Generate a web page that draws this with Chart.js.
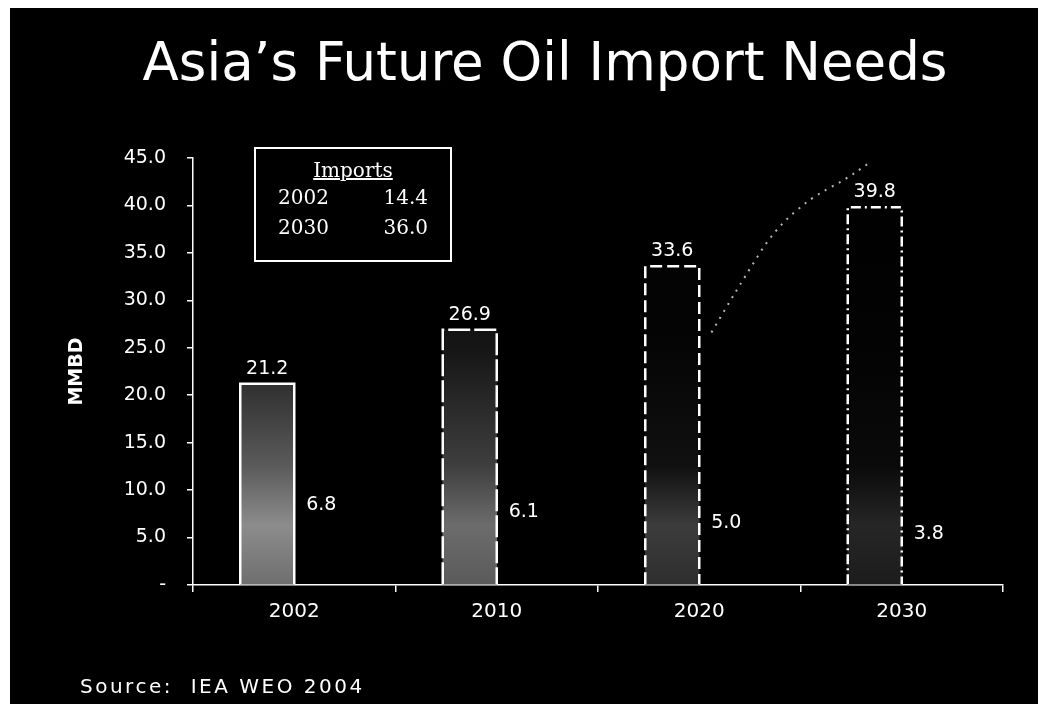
<!DOCTYPE html>
<html>
<head>
<meta charset="utf-8">
<title>Asia's Future Oil Import Needs</title>
<script src="https://cdn.jsdelivr.net/npm/chart.js@4.4.1/dist/chart.umd.min.js"></script>
<style>
  html, body { margin: 0; padding: 0; background: #fff; }
  #frame {
    position: absolute; left: 10px; top: 8px;
    width: 1028px; height: 696px; background: #000; overflow: hidden;
  }
  #chart { position: absolute; left: 0; top: 0; }
  #title {
    position: absolute; left: 0; top: 22px; width: 1070px; text-align: center;
    color: #fff; font-family: "DejaVu Sans", sans-serif; font-size: 53px; line-height: 64px;
    white-space: nowrap;
  }
  #imports {
    position: absolute; left: 244px; top: 139px; width: 194px; height: 111px;
    border: 2px solid #fff; color: #fff;
    font-family: "DejaVu Serif", "Liberation Serif", serif; font-size: 20px;
  }
  #imports .head { text-align: center; text-decoration: underline; margin-top: 8px; line-height: 26px; }
  #imports .row { position: relative; height: 30px; line-height: 28px; }
  #imports .yr { position: absolute; left: 22px; }
  #imports .val { position: absolute; right: 22px; }
  #source {
    position: absolute; left: 70px; top: 666px; color: #fff;
    font-family: "DejaVu Sans", sans-serif; font-size: 20px; letter-spacing: 2.5px;
  }
</style>
</head>
<body>
<div id="frame">
  <canvas id="chart" width="1028" height="696"></canvas>
  <div id="title">Asia’s Future Oil Import Needs</div>
  <div id="imports"></div>
  <div id="source">Source:&nbsp; IEA WEO 2004</div>
</div>
<script>
  // MMBD by year: total demand and the smaller second figure
  const years = ["2002", "2010", "2020", "2030"];
  const demand = [21.2, 26.9, 33.6, 39.8];
  const secondary = [6.8, 6.1, 5.0, 3.8];

  // import box figures
  const importYears = ["2002", "2030"];
  const importValues = [14.4, 36.0];

  // hand-drawn arrow sweeping up toward the 2030 bar (category index, MMBD)
  const arrowX = [2.06, 2.14, 2.22, 2.37, 2.55, 2.72, 2.84];
  const arrowY = [26.6, 29.5, 32.3, 37.4, 40.8, 42.7, 44.5];

  const box = document.getElementById("imports");
  box.innerHTML = '<div class="head">Imports</div>' +
    importYears.map((y, i) =>
      `<div class="row"><span class="yr">${y}</span><span class="val">${importValues[i].toFixed(1)}</span></div>`
    ).join("");

  const white = "#ffffff";
  const sans = "'DejaVu Sans', sans-serif";

  // grey wash inside each bar, fading to black toward the top
  const shades = [
    ["#1e1e1e", "#5a5a5a", "#8c8c8c", "#6e6e6e"],
    ["#161616", "#3e3e3e", "#6c6c6c", "#5a5a5a"],
    ["#050505", "#101010", "#3c3c3c", "#2e2e2e"],
    ["#030303", "#0a0a0a", "#262626", "#1c1c1c"],
  ];
  const dashes = [[], [22, 4], [12, 5], [10, 4, 2, 4]];

  function barFill(context) {
    const area = context.chart.chartArea;
    if (!area) return "#444";
    const s = shades[context.dataIndex];
    const g = context.chart.ctx.createLinearGradient(0, area.top, 0, area.bottom);
    g.addColorStop(0, "#000");
    g.addColorStop(0.45, s[0]);
    g.addColorStop(0.72, s[1]);
    g.addColorStop(0.86, s[2]);
    g.addColorStop(1, s[3]);
    return g;
  }

  const barOutline = {
    id: "barOutline",
    afterDatasetsDraw(chart) {
      const ctx = chart.ctx;
      const meta = chart.getDatasetMeta(0);
      ctx.save();
      ctx.strokeStyle = white;
      ctx.lineWidth = 2.5;
      meta.data.forEach((bar, i) => {
        const half = bar.width / 2;
        ctx.setLineDash(dashes[i]);
        ctx.beginPath();
        ctx.moveTo(bar.x - half, bar.base);
        ctx.lineTo(bar.x - half, bar.y);
        ctx.lineTo(bar.x + half, bar.y);
        ctx.lineTo(bar.x + half, bar.base);
        ctx.stroke();
      });
      ctx.restore();
    },
  };

  // dotted arrow stroke, placed through the category and value scales
  const arrowStroke = {
    id: "arrowStroke",
    afterDatasetsDraw(chart) {
      const { ctx, scales } = chart;
      const pts = arrowX.map((x, i) => [scales.x.getPixelForValue(x), scales.y.getPixelForValue(arrowY[i])]);
      ctx.save();
      ctx.strokeStyle = "#b4b4b4";
      ctx.lineWidth = 2;
      ctx.setLineDash([2, 6]);
      ctx.beginPath();
      ctx.moveTo(pts[0][0], pts[0][1]);
      for (let i = 1; i < pts.length - 1; i++) {
        const mx = (pts[i][0] + pts[i + 1][0]) / 2;
        const my = (pts[i][1] + pts[i + 1][1]) / 2;
        ctx.quadraticCurveTo(pts[i][0], pts[i][1], mx, my);
      }
      const last = pts[pts.length - 1];
      ctx.lineTo(last[0], last[1]);
      ctx.stroke();
      ctx.restore();
    },
  };

  const valueLabels = {
    id: "valueLabels",
    afterDatasetsDraw(chart) {
      const ctx = chart.ctx;
      ctx.save();
      ctx.fillStyle = white;
      ctx.font = "19px " + sans;
      ctx.textAlign = "center";
      ctx.textBaseline = "alphabetic";
      [0, 1].forEach((d) => {
        const values = chart.data.datasets[d].data;
        chart.getDatasetMeta(d).data.forEach((bar, i) => {
          ctx.fillText(values[i].toFixed(1), bar.x, bar.y - 10);
        });
      });
      ctx.restore();
    },
  };

  new Chart(document.getElementById("chart"), {
    type: "bar",
    data: {
      labels: years,
      datasets: [
        {
          label: "Demand",
          data: demand,
          backgroundColor: barFill,
          borderWidth: 0,
          barThickness: 54,
        },
        {
          label: "Secondary",
          data: secondary,
          backgroundColor: "rgba(0,0,0,0)",
          borderWidth: 0,
          barThickness: 54,
        },
      ],
    },
    options: {
      responsive: false,
      animation: false,
      events: [],
      layout: { padding: { left: 0, right: 35, top: 150, bottom: 69 } },
      plugins: {
        legend: { display: false },
        tooltip: { enabled: false },
      },
      scales: {
        x: {
          afterFit(scale) { scale.height = 50; },
          grid: { drawOnChartArea: false, color: white, tickLength: 7, lineWidth: 1.5 },
          border: { color: white, width: 1.5 },
          ticks: { color: white, font: { family: sans, size: 20 }, padding: 8 },
        },
        y: {
          min: 0,
          max: 45,
          afterFit(scale) { scale.width = 183; },
          grid: { drawOnChartArea: false, color: white, tickLength: 6, lineWidth: 1.5 },
          border: { color: white, width: 1.5 },
          ticks: {
            stepSize: 5,
            color: white,
            padding: 21,
            font: { family: sans, size: 19 },
            callback: (v) => (v === 0 ? "-" : v.toFixed(1)),
          },
          title: {
            display: true,
            text: "MMBD",
            color: white,
            font: { family: sans, size: 19, weight: "bold" },
            padding: { top: 56, bottom: 0 },
          },
        },
      },
    },
    plugins: [barOutline, arrowStroke, valueLabels],
  });
</script>
</body>
</html>
